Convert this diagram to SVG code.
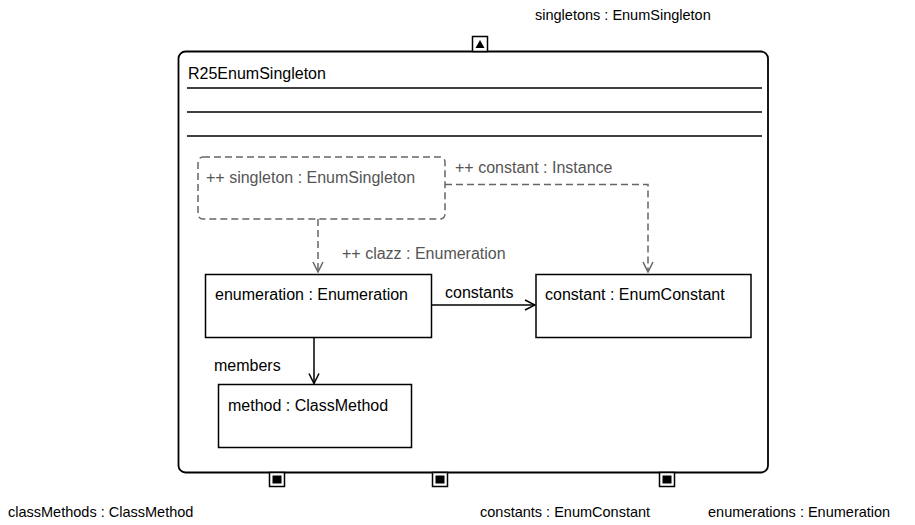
<svg xmlns="http://www.w3.org/2000/svg" width="915" height="525" viewBox="0 0 915 525">
  <style>
    text { font-family: "Liberation Sans", Arial, Helvetica, sans-serif; font-size: 16px; fill: #000; }
    .portlabel { font-size: 14.5px; }
    .dim { fill: #555; }
    .box { fill: #fff; stroke: #000; stroke-width: 1.5; }
    .frame { fill: #fff; stroke: #000; stroke-width: 1.8; }
    .sep { stroke: #000; stroke-width: 1.5; }
    .dashbox { fill: none; stroke: #666; stroke-width: 1.5; stroke-dasharray: 7 4; }
    .dashline { fill: none; stroke: #666; stroke-width: 1.5; stroke-dasharray: 7 4; }
    .solid { fill: none; stroke: #000; stroke-width: 1.5; }
    .port { fill: #fff; stroke: #000; stroke-width: 1.5; }
  </style>
  <defs>
    <marker id="open" viewBox="0 0 12 12" refX="11" refY="6" markerWidth="12" markerHeight="12" markerUnits="userSpaceOnUse" orient="auto">
      <path d="M1,1 L11,6 L1,11" fill="none" stroke="#000" stroke-width="1.5"/>
    </marker>
    <marker id="openGray" viewBox="0 0 12 12" refX="11" refY="6" markerWidth="12" markerHeight="12" markerUnits="userSpaceOnUse" orient="auto">
      <path d="M1,1 L11,6 L1,11" fill="none" stroke="#666" stroke-width="1.5"/>
    </marker>
  </defs>

  <!-- composite structure frame -->
  <g id="R25EnumSingleton">
    <rect class="frame" x="178.5" y="51.5" width="589.5" height="421" rx="7" ry="7"/>
    <text x="188" y="79">R25EnumSingleton</text>
    <line class="sep" x1="187" y1="88" x2="762" y2="88"/>
    <line class="sep" x1="187" y1="112" x2="762" y2="112"/>
    <line class="sep" x1="187" y1="136" x2="762" y2="136"/>
  </g>

  <!-- ports -->
  <g id="port-singletons">
    <rect class="port" x="472.5" y="36.5" width="15" height="15"/>
    <path d="M480,40 L484.5,48 L475.5,48 Z" fill="#000"/>
    <text class="portlabel" x="535" y="20">singletons : EnumSingleton</text>
  </g>
  <g id="port-classMethods">
    <rect class="port" x="269.5" y="472.5" width="15" height="14"/>
    <rect x="272.5" y="475.5" width="9" height="8" fill="#000"/>
    <text class="portlabel" x="8" y="517">classMethods : ClassMethod</text>
  </g>
  <g id="port-constants">
    <rect class="port" x="432.5" y="472.5" width="15" height="14"/>
    <rect x="435.5" y="475.5" width="9" height="8" fill="#000"/>
    <text class="portlabel" x="480" y="517">constants : EnumConstant</text>
  </g>
  <g id="port-enumerations">
    <rect class="port" x="659.5" y="472.5" width="15" height="14"/>
    <rect x="662.5" y="475.5" width="9" height="8" fill="#000"/>
    <text class="portlabel" x="708" y="517">enumerations : Enumeration</text>
  </g>

  <!-- parts -->
  <g id="singleton">
    <rect class="dashbox" x="198" y="157" width="247" height="62" rx="5" ry="5"/>
    <text class="dim" x="206" y="183">++ singleton : EnumSingleton</text>
  </g>
  <g id="enumeration">
    <rect class="box" x="205.5" y="274.5" width="226" height="63"/>
    <text x="215" y="300">enumeration : Enumeration</text>
  </g>
  <g id="constant">
    <rect class="box" x="536" y="274.5" width="215" height="63"/>
    <text x="545" y="300">constant : EnumConstant</text>
  </g>
  <g id="method">
    <rect class="box" x="218.5" y="384.5" width="193" height="63"/>
    <text x="228" y="411">method : ClassMethod</text>
  </g>

  <!-- connectors -->
  <g id="connectors">
    <path class="dashline" d="M445,184.5 L648,184.5 L648,272" marker-end="url(#openGray)"/>
    <text class="dim" x="455" y="173">++ constant : Instance</text>
    <path class="dashline" d="M318,219 L318,272" marker-end="url(#openGray)"/>
    <text class="dim" x="342" y="259">++ clazz : Enumeration</text>
    <path class="solid" d="M431.5,305 L535,305" marker-end="url(#open)"/>
    <text x="445" y="298">constants</text>
    <path class="solid" d="M314,337.5 L314,383.5" marker-end="url(#open)"/>
    <text x="214" y="371">members</text>
  </g>
</svg>
